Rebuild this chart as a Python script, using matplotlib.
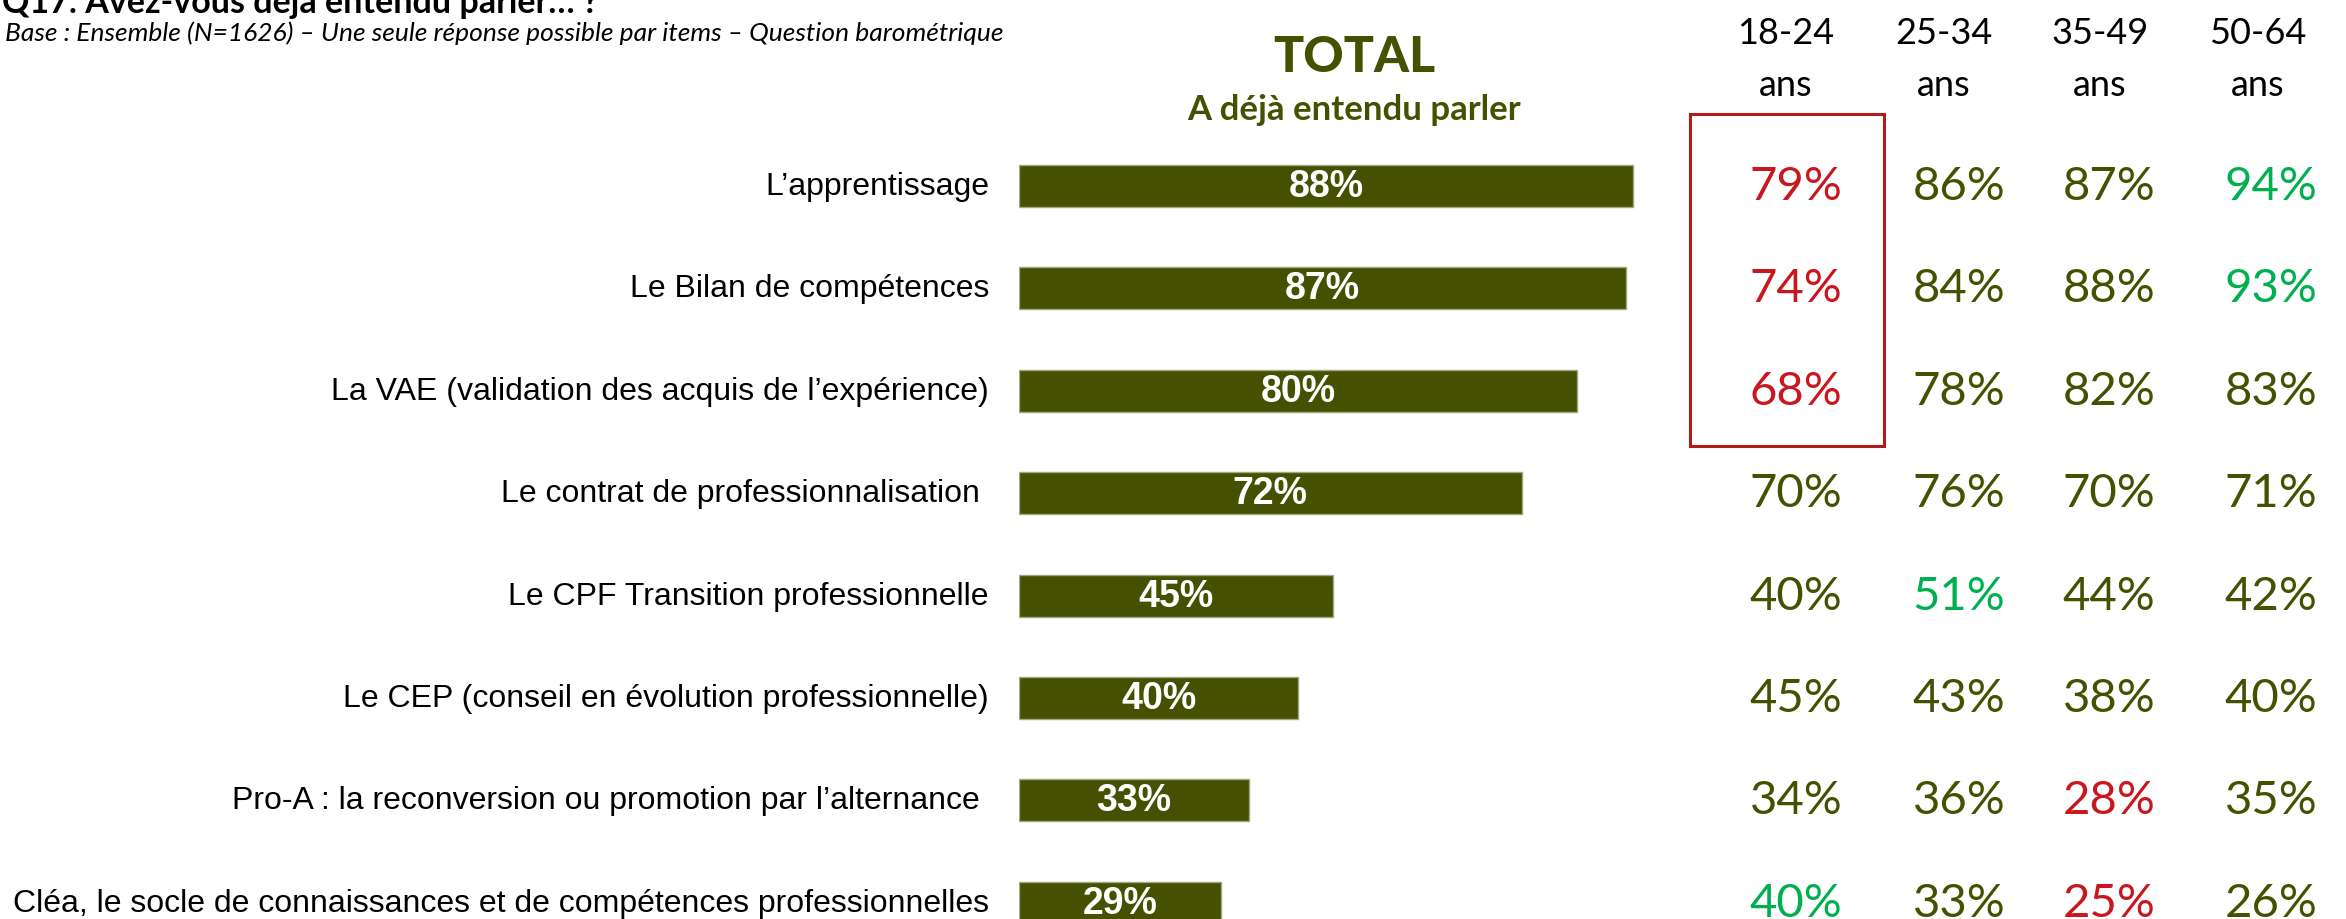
import matplotlib.pyplot as plt
from matplotlib.patches import Rectangle
from matplotlib.transforms import blended_transform_factory

items = [
    "L’apprentissage",
    "Le Bilan de compétences",
    "La VAE (validation des acquis de l’expérience)",
    "Le contrat de professionnalisation ",
    "Le CPF Transition professionnelle",
    "Le CEP (conseil en évolution professionnelle)",
    "Pro-A : la reconversion ou promotion par l’alternance ",
    "Cléa, le socle de connaissances et de compétences professionnelles",
]
total = [88, 87, 80, 72, 45, 40, 33, 29]

age_top = ["18-24", "25-34", "35-49", "50-64"]
age_bottom = ["ans", "ans", "ans", "ans"]
age_18_24 = [79, 74, 68, 70, 40, 45, 34, 40]
age_25_34 = [86, 84, 78, 76, 51, 43, 36, 33]
age_35_49 = [87, 88, 82, 70, 44, 38, 28, 25]
age_50_64 = [94, 93, 83, 71, 42, 40, 35, 26]

# difference vs total: "-" significantly lower, "+" significantly higher
sig_18_24 = ["-", "-", "-", "", "", "", "", "+"]
sig_25_34 = ["", "", "", "", "+", "", "", ""]
sig_35_49 = ["", "", "", "", "", "", "-", "-"]
sig_50_64 = ["+", "+", "", "", "", "", "", ""]

OLIVE = "#455000"
RED = "#C8171E"
GREEN = "#00B050"
SIG_COLORS = {"": OLIVE, "-": RED, "+": GREEN}

W, H = 2346, 920
PX_PER_PCT = 6.98
ROW0, ROW_STEP = 187, 102.4


def px_x(x):
    return x / W


def row_of(py):
    # pixel y (from top) -> row coordinate
    return (py - ROW0) / ROW_STEP


def draw():
    fig = plt.figure(figsize=(W / 100, H / 100), dpi=100)
    left = 1019
    ax = fig.add_axes([px_x(left), 0, 1 - px_x(left), 1])
    ax.set_xlim(0, (W - left) / PX_PER_PCT)
    ax.set_ylim(row_of(H), row_of(0))
    ax.axis("off")

    trans = blended_transform_factory(fig.transFigure, ax.transData)
    rows = range(len(items))

    ax.barh(rows, total, height=0.41, color=OLIVE, edgecolor="#a3a77f", linewidth=1)
    for i, v in enumerate(total):
        ax.text(v / 2, i, f"{v}%", ha="center", va="center", color="white",
                fontsize=27, fontweight="bold", family="Liberation Sans")
        ax.text(px_x(989), i, items[i], ha="right", va="center", color="black",
                fontsize=23, family="Liberation Sans", transform=trans)

    columns = [age_18_24, age_25_34, age_35_49, age_50_64]
    sigs = [sig_18_24, sig_25_34, sig_35_49, sig_50_64]
    value_x = [1796, 1959, 2109, 2271]
    head_x = [1786, 1944, 2100, 2258]
    for col, sig, vx, hx, top, bottom in zip(columns, sigs, value_x, head_x,
                                             age_top, age_bottom):
        ax.text(px_x(hx), row_of(34), top, ha="center", va="center",
                fontsize=26, family="Lato", color="black", transform=trans)
        ax.text(px_x(hx), row_of(85), bottom, ha="center", va="center",
                fontsize=26, family="Lato", color="black", transform=trans)
        for i, v in enumerate(col):
            ax.text(px_x(vx), i, f"{v}%", ha="center", va="center",
                    fontsize=34, family="Lato", color=SIG_COLORS[sig[i]],
                    transform=trans)

    box = Rectangle((px_x(1690), row_of(115)), px_x(1884) - px_x(1690),
                    row_of(447) - row_of(115), transform=trans, fill=False,
                    edgecolor="#B01C1C", linewidth=2.2, clip_on=False)
    ax.add_patch(box)

    ax.text(px_x(1354), row_of(57), "TOTAL", ha="center", va="center",
            fontsize=36, fontweight="black", family="Lato", color=OLIVE,
            transform=trans)
    ax.text(px_x(1354), row_of(110), "A déjà entendu parler", ha="center",
            va="center", fontsize=25, fontweight="bold", family="Lato",
            color=OLIVE, transform=trans)

    fig.text(0.001, 1 - 13 / H, "Q17. Avez-vous déjà entendu parler… ?",
             ha="left", va="baseline", fontsize=24.5, fontweight="bold",
             family="Lato", color="black")
    fig.text(0.002, 1 - 33 / H,
             "Base : Ensemble (N=1626) – Une seule réponse possible par items"
             " – Question barométrique",
             ha="left", va="center", fontsize=19, fontstyle="italic",
             family="Lato", color="black")

    plt.savefig("out.png", dpi=100)


def main() -> None:
    draw()


if __name__ == "__main__":
    main()
